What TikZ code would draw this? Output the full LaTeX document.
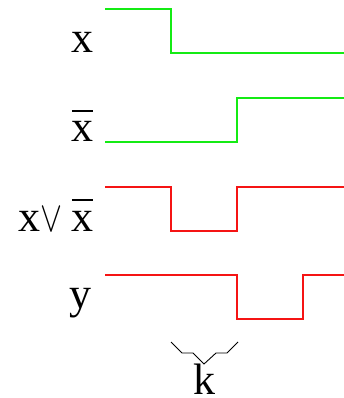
\documentclass[tikz,border=0pt]{standalone}
\usepackage{graphicx}
\usepackage{fontspec}
\setmainfont{Liberation Serif}
\usetikzlibrary{positioning,calc}
\definecolor{sigA}{RGB}{20,235,20}
\definecolor{sigB}{RGB}{245,20,20}
\newcommand{\orsym}{\resizebox{22pt}{24pt}{$\vee$}}
\newcommand{\xbar}{\rlap{\rule[30pt]{21pt}{1.6pt}}x}
\tikzset{lbl/.style={anchor=base east,inner sep=0pt,text=black,font=\fontsize{44}{48}\selectfont}, wavea/.style={draw=sigA,line width=1.1pt}, waveb/.style={draw=sigB,line width=1.1pt}, brace/.style={draw=black,line width=0.9pt}}

\begin{document}
\begin{tikzpicture}[x=1pt,y=-1pt]
\useasboundingbox (0,0) rectangle (344,398);
% signals
\draw[wavea] (105,9)--(171,9)--(171,53)--(344,53);
\draw[wavea] (105,142)--(237,142)--(237,98)--(344,98);
\draw[waveb] (105,187)--(171,187)--(171,231)--(237,231)--(237,187)--(344,187);
\draw[waveb] (105,275)--(237,275)--(237,319)--(303,319)--(303,275)--(344,275);
\draw[brace] (171,342)--(182,353)--(193,353)--(204,364)--(216,353)--(227,353)--(238,342);
% labels
\node[lbl] (lx) at (94,53) {x};
\node[lbl] (lnx) at (94,142) {\xbar};
\node[lbl] (lor) at (94,231) {x\orsym\hspace{9pt}\xbar};
\node[lbl] (ly) at (92,308) {y};
\node[lbl,anchor=base] (lk) at (204,394) {k};
\end{tikzpicture}
\end{document}
